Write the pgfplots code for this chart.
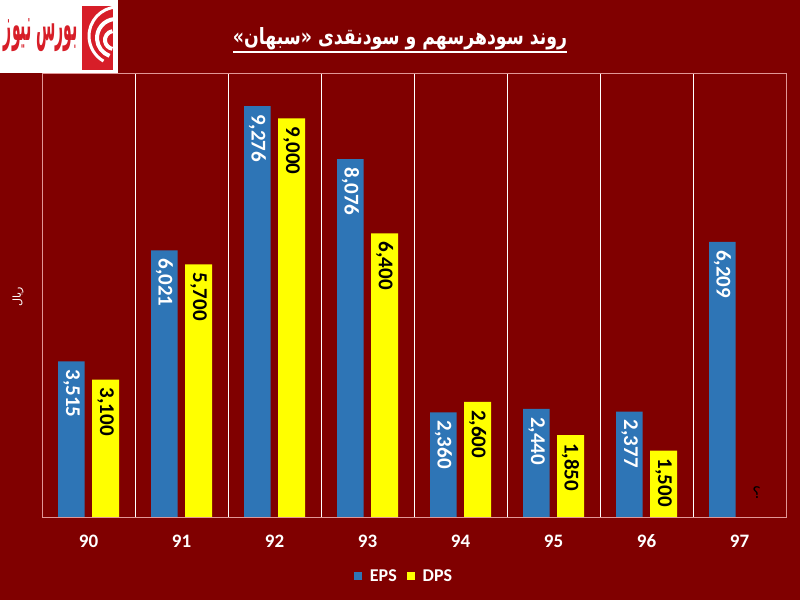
\documentclass[border=0pt]{standalone}
\usepackage{fontspec}
\usepackage{graphicx}
\setmainfont{Carlito}
\newfontfamily\arabicfont[Script=Arabic]{DejaVu Sans}
\TeXXeTstate=1
\usepackage{pgfplots}
\pgfplotsset{compat=1.18}
\definecolor{bgred}{RGB}{128,0,0}
\definecolor{epsblue}{RGB}{46,117,182}
\definecolor{dpsyellow}{RGB}{255,255,0}
\definecolor{framecol}{RGB}{225,150,150}
\definecolor{logored}{RGB}{215,30,40}
\newcommand{\fs}[1]{\fontsize{#1}{#1}\selectfont}
\begin{document}
\begin{tikzpicture}
\useasboundingbox (0,0) rectangle (800bp,600bp);
\fill[bgred] (0,0) rectangle (800bp,600bp);
% logo
\fill[white] (0,527bp) rectangle (118bp,600bp);
\fill[logored] (82bp,530bp) rectangle (113bp,594bp);
\begin{scope}
\clip (82bp,530bp) rectangle (113bp,594bp);
\draw[white, line width=4bp] (114bp,560bp) ++(100:9bp) arc (100:260:9bp);
\draw[white, line width=4bp] (116bp,562bp) ++(95:19bp) arc (95:250:19bp);
\draw[white, line width=3bp] (118bp,564bp) ++(92:29bp) arc (92:240:29bp);
\end{scope}
\node[logored, inner sep=0pt] at (41bp,565bp) {\resizebox{74bp}{22bp}{\arabicfont\bfseries\beginR بورس نیوز\endR}};
% title
\node[white, inner sep=0pt] at (400bp,561bp) {\resizebox{334bp}{17bp}{\arabicfont\bfseries\beginR روند سودهرسهم و سودنقدی «سبهان»\endR}};
\draw[white, line width=1.5bp] (233bp,548bp) -- (567bp,548bp);
% y label
\node[white, rotate=90, inner sep=0pt] at (18bp,303bp) {\arabicfont\fs{11bp}\beginR ریال\endR};
\begin{axis}[
  at={(42bp,83bp)}, anchor=south west,
  scale only axis, width=744bp, height=443bp,
  xmin=-0.5, xmax=7.5, ymin=0, ymax=10000,
  xtick={0,1,2,3,4,5,6,7},
  xticklabels={90,91,92,93,94,95,96,97},
  ytick=\empty,
  major tick length=0pt,
  axis line style={framecol, line width=1bp},
  extra x ticks={0.5,1.5,2.5,3.5,4.5,5.5,6.5},
  extra x tick labels={},
  extra x tick style={grid=major, major grid style={white, line width=1bp}},
  xticklabel style={anchor=center, yshift=-24bp, text=white, font=\bfseries\fs{19bp}},
  /pgf/number format/1000 sep={,},
  /pgf/number format/assume math mode=true,
  legend style={at={(0.4866,-0.133)}, anchor=center, draw=none, fill=none,
    text=white, font=\bfseries\fs{18bp},
    /tikz/every even column/.append style={column sep=8bp}},
  legend columns=2,
]
\addplot[ybar, bar width=26.5bp, bar shift=0pt, fill=epsblue, draw=none,
  nodes near coords,
  every node near coord/.append style={rotate=-90, anchor=west, inner xsep=8bp, inner ysep=0pt, text=white, font=\bfseries\fs{21bp}},
  legend image code/.code={\fill[epsblue] (0bp,-4bp) rectangle (8bp,4bp); \path (14bp,0bp);}]
  coordinates {(-0.183,3515) (0.817,6021) (1.817,9276) (2.817,8076) (3.817,2360) (4.817,2440) (5.817,2377) (6.817,6209)};
\addlegendentry{EPS}
\addplot[ybar, bar width=27bp, bar shift=0pt, fill=dpsyellow, draw=none,
  nodes near coords,
  every node near coord/.append style={rotate=-90, anchor=west, inner xsep=8bp, inner ysep=0pt, text=black, font=\bfseries\fs{21bp}},
  legend image code/.code={\fill[dpsyellow] (0bp,-4bp) rectangle (8bp,4bp); \path (14bp,0bp);}]
  coordinates {(0.183,3100) (1.183,5700) (2.183,9000) (3.183,6400) (4.183,2600) (5.183,1850) (6.183,1500)};
\addlegendentry{DPS}
\node[black, inner sep=0pt] at (axis cs:7.183,560) {\arabicfont\fs{16bp}؟};
\end{axis}
\end{tikzpicture}
\end{document}
